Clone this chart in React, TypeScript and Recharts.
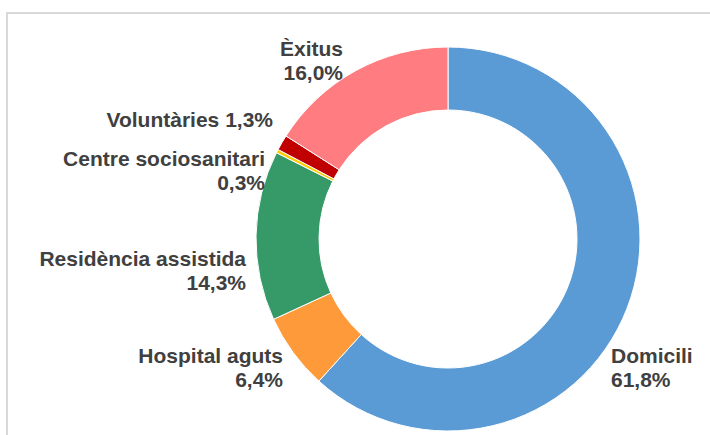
import { Cell, Pie, PieChart } from "recharts";

const categories = [
  "Domicili",
  "Hospital aguts",
  "Residència assistida",
  "Centre sociosanitari",
  "Voluntàries",
  "Èxitus",
];
const shares = [61.8, 6.4, 14.3, 0.3, 1.3, 16.0];
const colors = ["#5B9BD5", "#FF9A3A", "#359A67", "#FFCC00", "#C00000", "#FF7C80"];

// label placement relative to the ring centre (Excel had them hand-placed)
const labelPos = [
  { dx: 163, dy: 116, anchor: "start", inline: false },
  { dx: -165, dy: 116, anchor: "end", inline: false },
  { dx: -202, dy: 19, anchor: "end", inline: false },
  { dx: -183, dy: -81, anchor: "end", inline: false },
  { dx: -175, dy: -120, anchor: "end", inline: true },
  { dx: -105, dy: -191, anchor: "end", inline: false },
];

const data = categories.map((name, i) => ({ name, value: shares[i] }));

const fmtPct = (n: number) => n.toFixed(1).replace(".", ",") + "%";

function renderLabel(props: any) {
  const { cx, cy, index } = props;
  const p = labelPos[index];
  const x = cx + p.dx;
  const y = cy + p.dy;
  const txt = {
    fill: "#404040",
    fontSize: 21,
    fontWeight: 700,
    fontFamily: "'Liberation Sans', Arial, sans-serif",
  };
  if (p.inline) {
    return (
      <text x={x} y={y} textAnchor={p.anchor} dominantBaseline="central" {...txt}>
        {categories[index]} {fmtPct(shares[index])}
      </text>
    );
  }
  return (
    <text x={x} y={y} textAnchor={p.anchor} dominantBaseline="central" {...txt}>
      <tspan x={x} y={y}>{categories[index]}</tspan>
      <tspan x={x} y={y + 24}>{fmtPct(shares[index])}</tspan>
    </text>
  );
}

export default function App() {
  return (
    <div
      style={{
        position: "absolute",
        left: 0,
        top: 0,
        width: 710,
        height: 435,
        overflow: "hidden",
        background: "#fff",
      }}
    >
      <div
        style={{
          position: "absolute",
          left: 6,
          top: 12,
          width: 760,
          height: 480,
          border: "2px solid #d9d9d9",
        }}
      />
      <div style={{ position: "absolute", left: 0, top: 0 }}>
        <PieChart width={710} height={435} margin={{ top: 0, right: 0, bottom: 0, left: 0 }}>
          <Pie
            data={data}
            dataKey="value"
            nameKey="name"
            cx={448}
            cy={239}
            innerRadius={129}
            outerRadius={192}
            startAngle={90}
            endAngle={-270}
            stroke="#fff"
            strokeWidth={1}
            label={renderLabel}
            labelLine={false}
            isAnimationActive={false}
          >
            {data.map((d, i) => (
              <Cell key={d.name} fill={colors[i]} />
            ))}
          </Pie>
        </PieChart>
      </div>
    </div>
  );
}
